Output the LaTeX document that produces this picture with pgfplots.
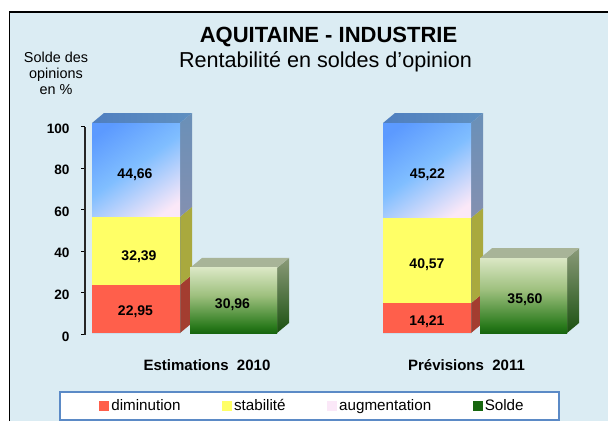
\documentclass[border=0pt]{standalone}
\usepackage{pgfplots}
\pgfplotsset{compat=1.18}
\usepackage{fontspec}
\setmainfont{Liberation Sans}
\definecolor{bg}{HTML}{DBECF3}
\definecolor{legblue}{HTML}{5B8AC6}
\definecolor{cRed}{HTML}{FF5F4B}
\definecolor{cYel}{HTML}{FFFF66}
\definecolor{cPink}{HTML}{FBE8F8}
\definecolor{cGrn}{HTML}{17660F}
\definecolor{cSkyA}{HTML}{80BEFF}
\definecolor{cSkyB}{HTML}{5C9AFF}
\definecolor{cGrnB}{HTML}{2A7A1C}
\definecolor{cGrnC}{HTML}{9EC07E}
\definecolor{cGrnD}{HTML}{DAE7C4}
\definecolor{sRed}{HTML}{A33D30}
\definecolor{sYel}{HTML}{A9A93E}
\definecolor{sBluB}{HTML}{A090A8}
\definecolor{sBluT}{HTML}{6A90B8}
\definecolor{tBluL}{HTML}{4F7FC0}
\definecolor{tBluR}{HTML}{6090C0}
\definecolor{sGrnB}{HTML}{1A5010}
\definecolor{sGrnT}{HTML}{8A9A78}
\definecolor{tGrn}{HTML}{A8B498}
\pgfdeclareverticalshading{bluepink}{100bp}{color(0bp)=(cPink); color(22bp)=(cPink); color(52bp)=(cSkyA); color(78bp)=(cSkyB); color(100bp)=(cSkyB)}
\pgfdeclareverticalshading{greenfront}{100bp}{color(0bp)=(cGrn); color(25bp)=(cGrn); color(30bp)=(cGrnB); color(54bp)=(cGrnC); color(75bp)=(cGrnD); color(100bp)=(cGrnD)}
\pgfplotsset{
  chartbase/.style={
    at={(0pt,88pt)}, anchor=south west, scale only axis,
    width=608pt, height=210pt,
    xmin=0, xmax=608, ymin=0, ymax=100, clip=false,
  },
  sideface/.style={draw=none, forget plot},
}
\begin{document}
\begin{tikzpicture}[x=1pt,y=1pt]
\useasboundingbox (0,0) rectangle (608,421);
\fill[white] (0,0) rectangle (608,421);
\fill[bg] (9.5,0) rectangle (608,409);
\draw[black,line width=1.8pt] (9.5,0) -- (9.5,409) -- (608,409);
\node[font=\fontsize{22}{24}\selectfont\bfseries,anchor=center] at (328.5,384) {AQUITAINE - INDUSTRIE};
\node[font=\fontsize{21.6}{24}\selectfont,anchor=center] at (325.5,359) {Rentabilité en soldes d'opinion};
\node[font=\fontsize{14.4}{16}\selectfont,align=center,anchor=center] at (56,348) {Solde des\\opinions\\en \%};
% y axis
\begin{axis}[
  at={(85pt,86.5pt)}, anchor=south west, scale only axis,
  width=100pt, height=208pt,
  xmin=0, xmax=1, ymin=0, ymax=100,
  axis y line=left, axis x line=none,
  y axis line style={-, line width=1.8pt, black!85},
  ytick={0,20,40,60,80,100},
  major tick length=4pt,
  tick style={line width=1pt, black},
  tick align=outside,
  /pgf/number format/assume math mode=true,
  yticklabel style={font=\fontsize{13.6}{15}\selectfont\bfseries, xshift=-8pt, yshift=-2pt},
]
\addplot[draw=none, forget plot] coordinates {(0,0) (0,100)};
\end{axis}
% side and top faces of the columns, depth 12 along x and 4.76 along y
\begin{axis}[chartbase, hide axis]
\addplot[sideface, fill=sRed] coordinates {(180,0) (192,4.76) (192,27.71) (180,22.95)} \closedcycle;
\addplot[sideface, fill=sYel] coordinates {(180,22.95) (192,27.71) (192,60.10) (180,55.34)} \closedcycle;
\addplot[sideface, bottom color=sBluB, top color=sBluT] coordinates {(180,55.34) (192,60.10) (192,104.76) (180,100)} \closedcycle;
\addplot[sideface, left color=tBluL, right color=tBluR] coordinates {(92,100) (104,104.76) (192,104.76) (180,100)} \closedcycle;
\addplot[sideface, bottom color=sGrnB, top color=sGrnT] coordinates {(277,0) (289,4.76) (289,35.72) (277,30.96)} \closedcycle;
\addplot[sideface, fill=tGrn] coordinates {(190,30.96) (202,35.72) (289,35.72) (277,30.96)} \closedcycle;
\addplot[sideface, fill=sRed] coordinates {(471,0) (483,4.76) (483,18.97) (471,14.21)} \closedcycle;
\addplot[sideface, fill=sYel] coordinates {(471,14.21) (483,18.97) (483,59.54) (471,54.78)} \closedcycle;
\addplot[sideface, bottom color=sBluB, top color=sBluT] coordinates {(471,54.78) (483,59.54) (483,104.76) (471,100)} \closedcycle;
\addplot[sideface, left color=tBluL, right color=tBluR] coordinates {(383,100) (395,104.76) (483,104.76) (471,100)} \closedcycle;
\addplot[sideface, bottom color=sGrnB, top color=sGrnT] coordinates {(567,0) (579,4.76) (579,40.36) (567,35.60)} \closedcycle;
\addplot[sideface, fill=tGrn] coordinates {(480,35.60) (492,40.36) (579,40.36) (567,35.60)} \closedcycle;
\end{axis}
% stacked column, Estimations 2010
\begin{axis}[chartbase, hide axis, ybar stacked, bar width=88]
\addplot[draw=none, fill=cRed] coordinates {(136,22.95)};
\addplot[draw=none, fill=cYel] coordinates {(136,32.39)};
\addplot[draw=none, shading=bluepink, shading angle=35] coordinates {(136,44.66)};
\end{axis}
% stacked column, Previsions 2011
\begin{axis}[chartbase, hide axis, ybar stacked, bar width=88]
\addplot[draw=none, fill=cRed] coordinates {(427,14.21)};
\addplot[draw=none, fill=cYel] coordinates {(427,40.57)};
\addplot[draw=none, shading=bluepink, shading angle=35] coordinates {(427,45.22)};
\end{axis}
% solde columns, labels, legend
\begin{axis}[chartbase,
  axis y line=none,
  x axis line style={draw=none},
  xtick={207,466.5}, xticklabels={Estimations\ \ 2010,Prévisions\ \ 2011},
  major x tick style={draw=none},
  xticklabel style={font=\fontsize{15}{16}\selectfont\bfseries, yshift=-23pt},
  legend columns=4,
  legend style={at={(309.5pt,-73pt)}, anchor=center, draw=legblue, line width=2pt, fill=white,
    font=\fontsize{15.2}{17}\selectfont, inner xsep=39pt, inner ysep=5.5pt,
    /tikz/every even column/.append style={column sep=39.5pt}},
  legend cell align=left,
  legend image code/.code={\fill[#1] (0pt,-3.5pt) rectangle (8pt,4.5pt);},
]
\addlegendimage{cRed}\addlegendentry{diminution}
\addlegendimage{cYel}\addlegendentry{stabilité}
\addlegendimage{cPink}\addlegendentry{augmentation}
\addlegendimage{cGrn}\addlegendentry{Solde\hspace{-6pt}\null}
\addplot[ybar, bar shift=0pt, bar width=87, draw=none, shading=greenfront, forget plot] coordinates {(233.5,30.96)};
\addplot[ybar, bar shift=0pt, bar width=87, draw=none, shading=greenfront, forget plot] coordinates {(523.5,35.60)};
\addplot[draw=none, mark=none, forget plot, nodes near coords, point meta=explicit symbolic,
  nodes near coords align={anchor=center},
  every node near coord/.append style={font=\fontsize{14}{16}\selectfont\bfseries, inner sep=0pt}]
  table[meta=lbl] {
x y lbl
135.5 10 22,95
139 36.3 32,39
135 75.5 44,66
232.5 13.3 30,96
427 5.4 14,21
427 32.4 40,57
427.5 75.2 45,22
525 15.7 35,60
};
\end{axis}
\end{tikzpicture}
\end{document}
